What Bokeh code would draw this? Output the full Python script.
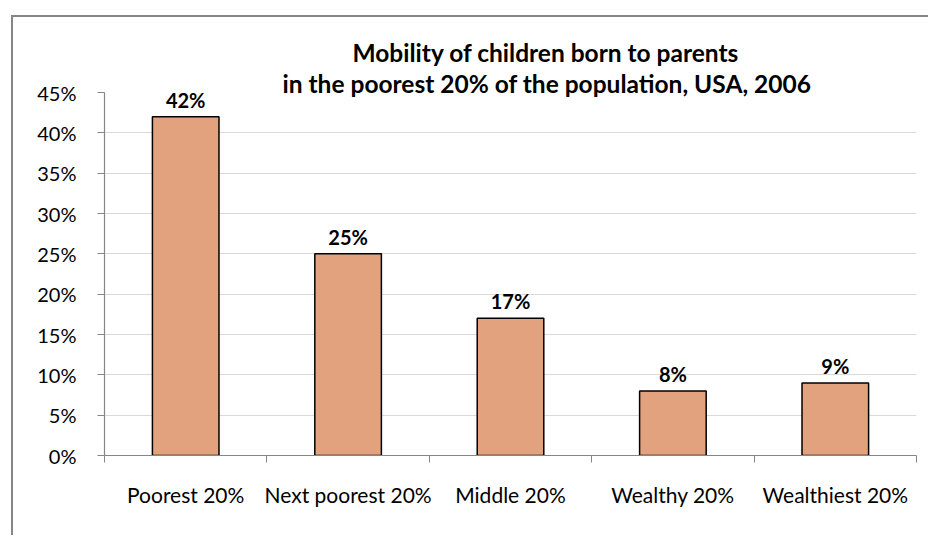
from bokeh.plotting import figure
from bokeh.models import FixedTicker, Range1d, NumeralTickFormatter, LabelSet, ColumnDataSource, Title
from bokeh.core.properties import value
from bokeh.embed import file_html
from bokeh.resources import INLINE

categories = ["Poorest 20%", "Next poorest 20%", "Middle 20%", "Wealthy 20%", "Wealthiest 20%"]
shares = [0.42, 0.25, 0.17, 0.08, 0.09]
y_ticks = [0.0, 0.05, 0.10, 0.15, 0.20, 0.25, 0.30, 0.35, 0.40, 0.45]
title_lines = ["Mobility of children born to parents",
               "in the poorest 20% of the population, USA, 2006"]

FONT = "Lato"
GRAY = "#868686"

xs = [i + 0.5 for i in range(len(categories))]
src = ColumnDataSource(dict(
    x=xs, top=shares,
    label=[f"{round(v * 100)}%" for v in shares],
))

p = figure(width=917, height=520, output_backend="svg", toolbar_location=None,
           x_range=Range1d(0, len(categories)), y_range=Range1d(0, 0.45),
           min_border_left=91, min_border_right=14, min_border_top=75, min_border_bottom=82)
p.margin = (15, 0, 0, 11)
p.styles = {"border-top": f"2px solid {GRAY}", "border-left": f"2px solid {GRAY}"}

p.vbar(x="x", top="top", width=0.41, source=src, fill_color="#E2A27E",
       line_color="black", line_width=1.5)

labels = LabelSet(x="x", y="top", text="label", source=src, y_offset=5,
                  text_align="center", text_baseline="bottom",
                  text_font=value(FONT), text_font_style="bold",
                  text_font_size="20px", text_color="black")
p.add_layout(labels)

def style_title(t, standoff, offset):
    t.align = "left"
    t.offset = offset
    t.text_font = FONT
    t.text_font_style = "bold"
    t.text_font_size = "24.5px"
    t.text_color = "black"
    t.standoff = standoff

# outer line (farther from the plot)
p.title.text = title_lines[0]
style_title(p.title, 9, 248)
# inner line (closest to the plot)
t2 = Title(text=title_lines[1])
style_title(t2, -10, 178)
p.add_layout(t2, "above")

p.outline_line_color = None
p.xgrid.grid_line_color = None
p.ygrid.grid_line_color = "#d9d9d9"
p.ygrid.grid_line_width = 1.2

ya = p.yaxis[0]
ya.ticker = FixedTicker(ticks=y_ticks)
ya.formatter = NumeralTickFormatter(format="0%")
ya.axis_line_color = GRAY
ya.axis_line_width = 1.2
ya.major_tick_line_color = GRAY
ya.major_tick_out = 7
ya.major_tick_in = 0
ya.minor_tick_line_color = None
ya.major_label_standoff = 21
ya.major_label_text_font = FONT
ya.major_label_text_font_size = "20px"
ya.major_label_text_color = "black"

xa = p.xaxis[0]
xa.ticker = FixedTicker(ticks=xs, minor_ticks=list(range(len(categories) + 1)))
xa.major_label_overrides = {x: c for x, c in zip(xs, categories)}
xa.axis_line_color = GRAY
xa.axis_line_width = 1.2
xa.major_tick_line_color = None
xa.minor_tick_line_color = GRAY
xa.minor_tick_out = 7
xa.minor_tick_in = 0
xa.major_label_standoff = 19
xa.major_label_text_font = FONT
xa.major_label_text_font_size = "21px"
xa.major_label_text_color = "black"

open("out.html", "w").write(file_html(p, INLINE))
